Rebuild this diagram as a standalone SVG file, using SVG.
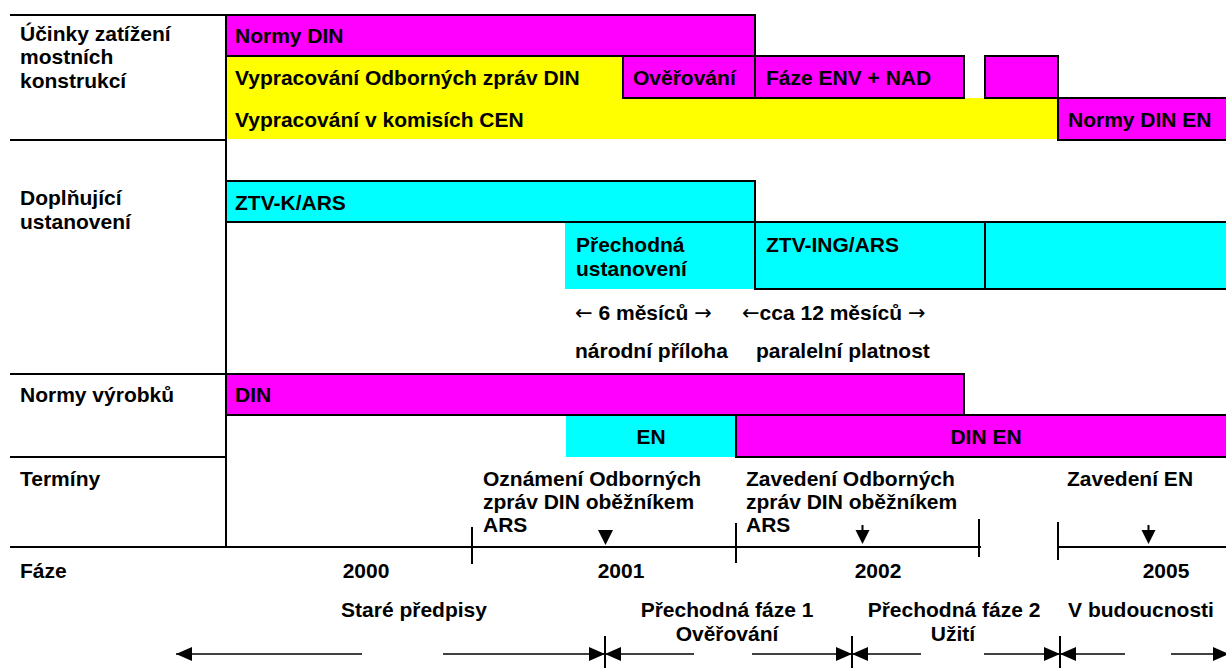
<svg xmlns="http://www.w3.org/2000/svg" width="1226" height="668" viewBox="0 0 1226 668">
<style>
text{font-family:"Liberation Sans",Arial,sans-serif;font-weight:bold;font-size:21px;fill:#000}
.arw{font-family:"DejaVu Sans",sans-serif;font-weight:normal}
.m{fill:#FF00FF}.y{fill:#FFFF00}.c{fill:#00FFFF}
.ln{stroke:#000;stroke-width:2;fill:none}
.ar{stroke:#000;stroke-width:1.6;fill:none}
.mid{text-anchor:middle}
</style>
<defs>
<marker id="ah" markerWidth="16" markerHeight="14" refX="16" refY="7" orient="auto" markerUnits="userSpaceOnUse"><path d="M0,0 L16,7 L0,14 Z" fill="#000"/></marker>
</defs>
<rect width="1226" height="668" fill="#fff"/>

<g id="bars">
<g id="normy-din"><rect class="m" x="226" y="15" width="529" height="41"/><text x="235" y="43">Normy DIN</text></g>
<g id="vypracovani-odb"><rect class="y" x="226" y="56" width="397" height="42"/><text x="235" y="85">Vypracování Odborných zpráv DIN</text></g>
<g id="overovani"><rect class="m" x="623" y="56" width="132" height="42"/><text x="633" y="85">Ověřování</text></g>
<g id="faze-env"><rect class="m" x="755" y="56" width="209" height="42"/><text x="766" y="85">Fáze ENV + NAD</text></g>
<g id="small-box"><rect class="m" x="985" y="56" width="73" height="42"/></g>
<g id="vypracovani-cen"><rect class="y" x="226" y="98" width="832" height="41"/><text x="235" y="127">Vypracování v komisích CEN</text></g>
<g id="normy-din-en"><rect class="m" x="1058" y="98" width="168" height="42"/><text x="1068" y="127">Normy DIN EN</text></g>

<g id="ztv-k"><rect class="c" x="226" y="181" width="529" height="41"/><text x="235" y="210">ZTV-K/ARS</text></g>
<g id="prechodna-ust"><rect class="c" x="565" y="222" width="190" height="67"/><text x="576" y="252">Přechodná</text><text x="576" y="276">ustanovení</text></g>
<g id="ztv-ing"><rect class="c" x="755" y="222" width="471" height="67"/><text x="766" y="252">ZTV-ING/ARS</text></g>

<g id="din"><rect class="m" x="226" y="374" width="738" height="41"/><text x="235" y="402">DIN</text></g>
<g id="en"><rect class="c" x="566" y="415" width="170" height="42"/><text class="mid" x="651" y="444">EN</text></g>
<g id="din-en"><rect class="m" x="736" y="415" width="490" height="42"/><text class="mid" x="986" y="444">DIN EN</text></g>
</g>

<g id="grid" class="ln">
<path d="M10,15 H755 V56"/>
<path d="M226,15 V547"/>
<path d="M226,56 H623 M623,56 H964 V98 H623 V56 M755,56 V98"/>
<path d="M985,56 H1058 V98 H985 Z"/>
<path d="M1058,98 H1226 M1058,98 V140 H1226"/>
<path d="M10,140 H226"/>
<path d="M226,181 H755 V222"/>
<path d="M226,222 H1226"/>
<path d="M755,222 V289 H1226 M985,222 V289"/>
<path d="M10,374 H964 V415"/>
<path d="M226,415 H1226"/>
<path d="M736,415 V457 H1226"/>
<path d="M10,457 H226"/>
<path d="M10,547 H981 M1058,547 H1226"/>
<path d="M472,527 V564 M736,523 V563 M979,519 V557 M1058,522 V560"/>
</g>

<g id="labels">
<text x="20" y="41">Účinky zatížení</text>
<text x="20" y="64">mostních</text>
<text x="20" y="88">konstrukcí</text>
<text x="20" y="205">Doplňující</text>
<text x="20" y="229">ustanovení</text>
<text x="20" y="402">Normy výrobků</text>
<text x="20" y="486">Termíny</text>
<text x="20" y="578">Fáze</text>
<text x="575" y="320"><tspan class="arw">←</tspan> 6 měsíců <tspan class="arw">→</tspan></text>
<text x="742" y="320"><tspan class="arw">←</tspan>cca 12 měsíců <tspan class="arw">→</tspan></text>
<text x="575" y="358">národní příloha</text>
<text x="756" y="358">paralelní platnost</text>
<text x="483" y="486">Oznámení Odborných</text>
<text x="483" y="509">zpráv DIN oběžníkem</text>
<text x="483" y="532">ARS</text>
<text x="746" y="486">Zavedení Odborných</text>
<text x="746" y="509">zpráv DIN oběžníkem</text>
<text x="746" y="532">ARS</text>
<text x="1067" y="486">Zavedení EN</text>
<text class="mid" x="366" y="578">2000</text>
<text class="mid" x="621" y="578">2001</text>
<text class="mid" x="878" y="578">2002</text>
<text class="mid" x="1166" y="578">2005</text>
<text class="mid" x="414" y="617">Staré předpisy</text>
<text class="mid" x="727" y="617">Přechodná fáze 1</text>
<text class="mid" x="727" y="641">Ověřování</text>
<text class="mid" x="954" y="617">Přechodná fáze 2</text>
<text class="mid" x="953" y="641">Užití</text>
<text class="mid" x="1141" y="617">V budoucnosti</text>
</g>

<g id="markers">
<path d="M598,530 H613 L605.5,545 Z" fill="#000"/>
<path d="M862.5,525 V532" class="ln"/>
<path d="M855.5,530 H869.5 L862.5,544 Z" fill="#000"/>
<path d="M1148.5,525 V532" class="ln"/>
<path d="M1141.5,530 H1155.5 L1148.5,544 Z" fill="#000"/>
</g>

<g id="connectors">
<path class="ar" d="M362,654 H176" marker-end="url(#ah)"/>
<path class="ar" d="M443,654 H605" marker-end="url(#ah)"/>
<path class="ar" d="M694,654 H605" marker-end="url(#ah)"/>
<path class="ar" d="M752,654 H852" marker-end="url(#ah)"/>
<path class="ar" d="M921,654 H852" marker-end="url(#ah)"/>
<path class="ar" d="M984,654 H1060" marker-end="url(#ah)"/>
<path class="ar" d="M1125,654 H1060" marker-end="url(#ah)"/>
<path class="ar" d="M1171,654 H1229" marker-end="url(#ah)"/>
<path class="ln" d="M605,636 V668 M852,636 V668 M1060,636 V668"/>
</g>
</svg>
